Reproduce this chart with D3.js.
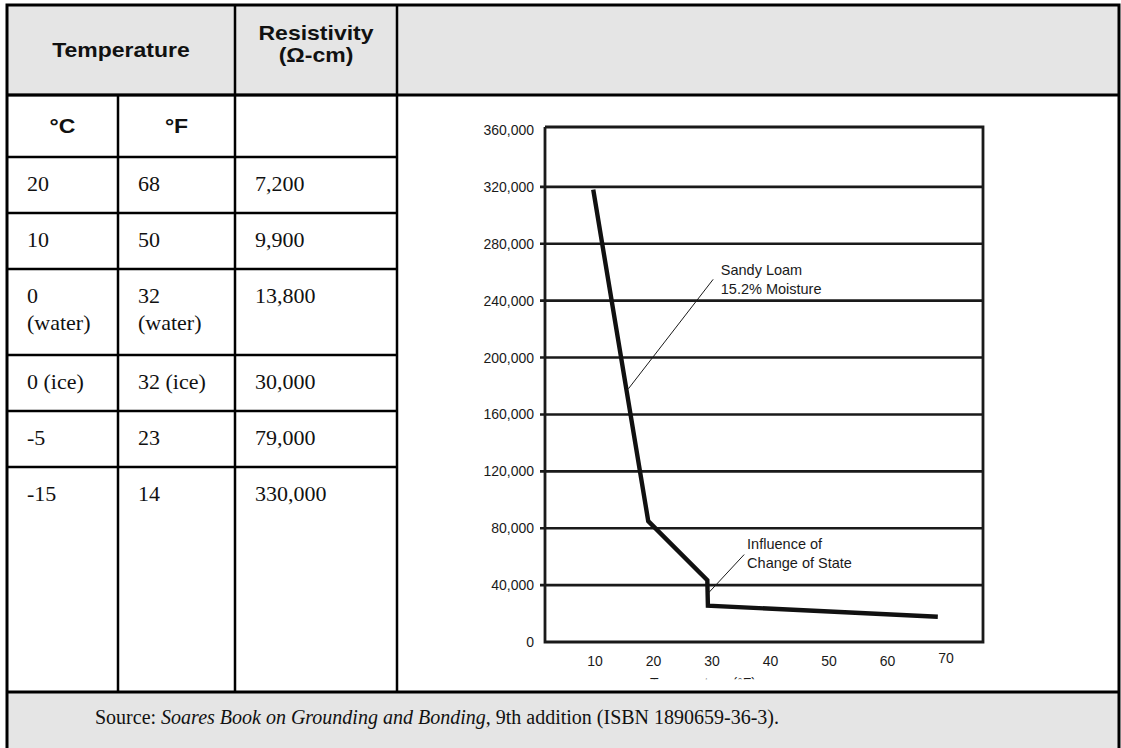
<!DOCTYPE html>
<html><head><meta charset="utf-8">
<script src="https://cdn.jsdelivr.net/npm/d3@7"></script>
<style>
html,body{margin:0;padding:0;background:#fff;}
svg{display:block;}
</style></head>
<body>
<svg id="c" width="1121" height="748"></svg>
<script>
// ---------- data ----------
const tempC = [["20"],["10"],["0","(water)"],["0 (ice)"],["-5"],["-15"]];
const tempF = [["68"],["50"],["32","(water)"],["32 (ice)"],["23"],["14"]];
const resistivity = ["7,200","9,900","13,800","30,000","79,000","330,000"];
const headerTemp = "Temperature";
const headerRes = ["Resistivity","(\u03A9-cm)"];
const unitHeaders = ["\u00B0C","\u00B0F",""];
const sourceText = ["Source: ", "Soares Book on Grounding and Bonding", ", 9th addition (ISBN 1890659-36-3)."];

// curve: temperature (°F) vs resistivity (Ω-cm)
const curveTemp = [9.7, 19.1, 29.2, 29.3, 68.6];
const curveRes  = [318000, 85000, 43500, 25500, 17800];
const yTicks = [0,40000,80000,120000,160000,200000,240000,280000,320000,360000];
const xTicks = [10,20,30,40,50,60,70];
const xTitle = "Temperature (\u00B0F)";
const annotations = [
  {lines:["Sandy Loam","15.2% Moisture"], tx:31.5, ty:258000, from:[30.2,255000], to:[15.7,178000]},
  {lines:["Influence of","Change of State"], tx:36.0, ty:65500, from:[35.5,61500], to:[29.4,34500]}
];

// ---------- layout ----------
const svg = d3.select("#c");
const L = 7, R = 1119, T = 5;
const colX = [L, 118, 235, 397, R];
const headerBottom = 95;
const rowY = [157, 213, 269, 355, 411, 467, 692];
const bottomY = 760;
const gray = "#e5e5e5";

// backgrounds
svg.append("rect").attr("x",L).attr("y",T).attr("width",R-L).attr("height",headerBottom-T).attr("fill",gray);
svg.append("rect").attr("x",L).attr("y",rowY[6]).attr("width",R-L).attr("height",bottomY-rowY[6]).attr("fill",gray);

const lines = svg.append("g").attr("stroke","#000").attr("stroke-width",3).attr("fill","none");
// outer border
lines.append("path").attr("d",`M${L},${bottomY}V${T}H${R}V${bottomY}`);
// horizontal row lines
lines.append("line").attr("x1",L).attr("x2",R).attr("y1",headerBottom).attr("y2",headerBottom);
lines.append("line").attr("x1",L).attr("x2",R).attr("y1",rowY[6]).attr("y2",rowY[6]);
lines.selectAll(".rl").data([headerBottom].concat(rowY.slice(0,6))).enter().append("line")
  .attr("x1",L).attr("x2",colX[3]).attr("y1",d=>d).attr("y2",d=>d).attr("stroke-width",2.5);
// vertical col lines
lines.append("line").attr("x1",colX[1]).attr("x2",colX[1]).attr("y1",headerBottom).attr("y2",rowY[6]).attr("stroke-width",2.5);
lines.append("line").attr("x1",colX[2]).attr("x2",colX[2]).attr("y1",T).attr("y2",rowY[6]).attr("stroke-width",2.5);
lines.append("line").attr("x1",colX[3]).attr("x2",colX[3]).attr("y1",T).attr("y2",rowY[6]).attr("stroke-width",2.5);

const sans = "'Liberation Sans', Arial, Helvetica, sans-serif";
const serif = "'Liberation Serif', 'Times New Roman', Times, serif";

// header texts (slightly widened sans bold)
function hText(cx, cy, t, size){
  svg.append("g").attr("transform",`translate(${cx},${cy}) scale(1.15,1)`)
    .append("text").attr("text-anchor","middle")
    .attr("font-family",sans).attr("font-weight","bold").attr("font-size",size).attr("fill","#111").text(t);
}
hText((colX[0]+colX[2])/2, 57, headerTemp, 20);
headerRes.forEach((t,i)=>hText((colX[2]+colX[3])/2, 40+i*22, t, 20));
unitHeaders.forEach((t,i)=>hText((colX[i]+colX[i+1])/2, 133, t, 20));

// body texts
const cols = [tempC, tempF, resistivity.map(d=>[d])];
cols.forEach((col,ci)=>{
  col.forEach((ls,ri)=>{
    ls.forEach((t,li)=>{
      svg.append("text").attr("x",colX[ci]+20).attr("y",rowY[ri]+34+li*27)
        .attr("font-family",serif).attr("font-size",22).attr("fill","#111").text(t);
    });
  });
});

// source
const src = svg.append("text").attr("x",95).attr("y",724).attr("font-family",serif).attr("font-size",20).attr("fill","#111");
sourceText.forEach((t,i)=>src.append("tspan").attr("font-style",i===1?"italic":"normal").text(t));

// ---------- chart ----------
const x = d3.scaleLinear().domain([10,70]).range([595,946]);
const y = d3.scaleLinear().domain([0,360000]).range([642,130]);
const axX = 545, frameR = 983;
const ink = "#1a1a1a";
const g = svg.append("g");

// gridlines (ticks included)
g.selectAll(".grid").data(yTicks.filter(d=>d>0 && d<360000)).enter().append("line")
  .attr("x1",axX-5).attr("x2",frameR).attr("y1",d=>y(d)).attr("y2",d=>y(d))
  .attr("stroke",ink).attr("stroke-width",2.6);
// frame
g.append("path").attr("d",`M${axX},${y(360000)-3}V${y(0)}H${frameR}V${y(360000)-3}H${axX}`)
  .attr("fill","none").attr("stroke",ink).attr("stroke-width",2.8);

// y labels
const fmt = d3.format(",");
g.selectAll(".yl").data(yTicks).enter().append("text")
  .attr("x",534).attr("y",d=>y(d)+5).attr("text-anchor","end")
  .attr("font-family",sans).attr("font-size",14).attr("fill",ink).text(d=>fmt(d));
// x labels
g.selectAll(".xl").data(xTicks).enter().append("text")
  .attr("x",d=>x(d)).attr("y",d=>d===70?663:666).attr("text-anchor","middle")
  .attr("font-family",sans).attr("font-size",14).attr("fill",ink).text(d=>d);
// clipped x title (only its top edge shows, as in the source)
const clip = svg.append("defs").append("clipPath").attr("id","xt");
clip.append("rect").attr("x",540).attr("y",670).attr("width",450).attr("height",9.3);
g.append("text").attr("clip-path","url(#xt)").attr("x",650).attr("y",688)
  .attr("font-family",sans).attr("font-size",14).attr("fill",ink).text(xTitle);

// curve
const pts = curveTemp.map((t,i)=>[t,curveRes[i]]);
g.append("path").datum(pts)
  .attr("d",d3.line().x(d=>x(d[0])).y(d=>y(d[1])))
  .attr("fill","none").attr("stroke","#111").attr("stroke-width",4.4).attr("stroke-linejoin","miter");

// annotations
annotations.forEach(a=>{
  g.append("line").attr("x1",x(a.from[0])).attr("y1",y(a.from[1])).attr("x2",x(a.to[0])).attr("y2",y(a.to[1]))
    .attr("stroke",ink).attr("stroke-width",1);
  a.lines.forEach((t,i)=>{
    g.append("text").attr("x",x(a.tx)).attr("y",y(a.ty)+i*19).attr("font-family",sans).attr("font-size",14.5)
      .attr("fill",ink).text(t);
  });
});
</script>
</body></html>
